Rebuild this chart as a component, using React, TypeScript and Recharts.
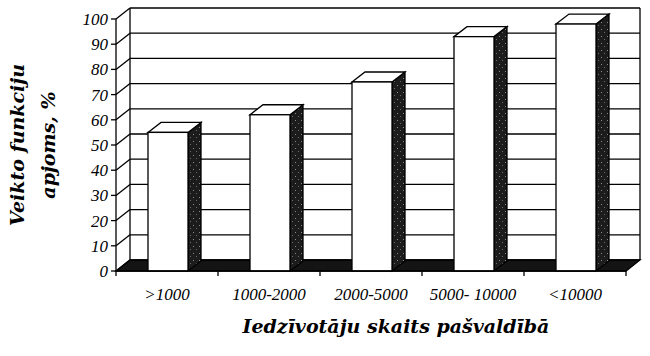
import { BarChart, Bar, XAxis, YAxis, CartesianGrid } from 'recharts'

const categories = ['>1000', '1000-2000', '2000-5000', '5000- 10000', '<10000']
const values = [55, 62, 75, 93, 98]
const yTicks = [0, 10, 20, 30, 40, 50, 60, 70, 80, 90, 100]

const W = 650
const H = 356
const X_AXIS_H = 30
const MARGIN = { top: 19, right: 24, bottom: 85 - X_AXIS_H, left: 60 }
const Y_AXIS_W = 56
const PLOT_L = MARGIN.left + Y_AXIS_W
const PLOT_R = W - MARGIN.right
const PLOT_T = MARGIN.top
const PLOT_B = H - 85
const BAND = (PLOT_R - PLOT_L) / categories.length
// depth of the fake 3d box
const DX = 14
const DY = 11
const BAR_DX = 13
const BAR_DY = 10
const FONT = '"Liberation Serif", "Times New Roman", serif'
const TITLE_FONT = '"DejaVu Serif", "Liberation Serif", serif'
const LW = 1.3

const data = categories.map((cat, i) => ({ cat, value: values[i] }))

function Bar3D(props: any) {
  const { x, y, width, height } = props
  if (height == null || width == null) return null
  const x0 = x + 1
  const r = x0 + width
  const b = y + height
  return (
    <g>
      <polygon
        points={`${r},${y} ${r + BAR_DX},${y - BAR_DY} ${r + BAR_DX},${b - BAR_DY} ${r},${b}`}
        fill="url(#stipple)"
        stroke="#000"
        strokeWidth={LW}
      />
      <polygon
        points={`${x0},${y} ${x0 + BAR_DX},${y - BAR_DY} ${r + BAR_DX},${y - BAR_DY} ${r},${y}`}
        fill="#fff"
        stroke="#000"
        strokeWidth={LW}
      />
      <rect x={x0} y={y} width={width} height={height} fill="#fff" stroke="#000" strokeWidth={LW} />
    </g>
  )
}

function GridLine(props: any) {
  const { x1, y1, x2 } = props
  return (
    <g key={props.key}>
      <line x1={x1} y1={y1} x2={x1 + DX} y2={y1 - DY} stroke="#000" strokeWidth={LW} />
      <line x1={x1 + DX} y1={y1 - DY} x2={x2 + DX} y2={y1 - DY} stroke="#000" strokeWidth={LW} />
    </g>
  )
}

function XTick(props: any) {
  const { x, y, payload, index } = props
  const left = x - BAND / 2
  return (
    <g>
      <line x1={left} y1={y} x2={left} y2={y + 5} stroke="#000" strokeWidth={LW} />
      {index === categories.length - 1 && (
        <line x1={x + BAND / 2} y1={y} x2={x + BAND / 2} y2={y + 5} stroke="#000" strokeWidth={LW} />
      )}
      <text x={x} y={y + 29} textAnchor="middle" fontFamily={FONT} fontStyle="italic" fontSize={17} fill="#000">
        {payload.value}
      </text>
    </g>
  )
}

function YTick(props: any) {
  const { x, y, payload } = props
  return (
    <text x={x} y={y + 6} textAnchor="end" fontFamily={FONT} fontStyle="italic" fontSize={17} fill="#000">
      {payload.value}
    </text>
  )
}

function Walls() {
  // back wall edges + dark floor, sits behind the recharts svg
  const bl = PLOT_L + DX
  const br = PLOT_R + DX
  const bt = PLOT_T - DY
  const bb = PLOT_B - DY
  return (
    <svg width={W} height={H} style={{ position: 'absolute', left: 0, top: 0 }}>
      <defs>
        <pattern id="stipple" width="6" height="7" patternUnits="userSpaceOnUse">
          <rect width="6" height="7" fill="#1c1c1c" />
          <rect x="1" y="1" width="1" height="1" fill="#8a8a8a" />
          <rect x="4" y="4" width="1" height="1" fill="#6a6a6a" />
        </pattern>
      </defs>
      <rect x={bl} y={bt} width={br - bl} height={bb - bt} fill="#fff" />
      <line x1={bl} y1={bt} x2={bl} y2={bb} stroke="#000" strokeWidth={LW} />
      <line x1={br} y1={bt} x2={br} y2={bb} stroke="#000" strokeWidth={LW} />
      <polygon
        points={`${PLOT_L},${PLOT_B} ${PLOT_R},${PLOT_B} ${br},${bb} ${bl},${bb}`}
        fill="#141414"
        stroke="#000"
        strokeWidth={LW}
      />
    </svg>
  )
}

export default function App() {
  return (
    <div style={{ position: 'absolute', left: 0, top: 0, width: W, height: H, background: '#fff' }}>
      <Walls />
      <div style={{ position: 'absolute', left: 0, top: 0 }}>
        <BarChart width={W} height={H} data={data} margin={MARGIN} barSize={40}>
          <CartesianGrid vertical={false} horizontal={GridLine} />
          <XAxis
            dataKey="cat"
            interval={0}
            height={X_AXIS_H}
            tickLine={false}
            tickSize={0}
            tickMargin={0}
            axisLine={{ stroke: '#000', strokeWidth: LW }}
            tick={XTick}
            label={{
              content: () => (
                <text x={396} y={333} textAnchor="middle" fontFamily={TITLE_FONT} fontStyle="italic" fontWeight="bold" fontSize={19} fill="#000">
                  Iedzīvotāju skaits pašvaldībā
                </text>
              ),
            }}
          />
          <YAxis
            type="number"
            domain={[0, 100]}
            ticks={yTicks}
            interval={0}
            width={Y_AXIS_W}
            tickSize={5}
            tickMargin={3}
            tickLine={{ stroke: '#000', strokeWidth: LW }}
            axisLine={{ stroke: '#000', strokeWidth: LW }}
            tick={YTick}
            label={{
              content: () => (
                <g fontFamily={TITLE_FONT} fontStyle="italic" fontWeight="bold" fontSize={19} fill="#000">
                  <text x={24} y={145} textAnchor="middle" transform="rotate(-90 24 145)">
                    Veikto funkciju
                  </text>
                  <text x={55} y={145} textAnchor="middle" transform="rotate(-90 55 145)">
                    apjoms, %
                  </text>
                </g>
              ),
            }}
          />
          <Bar dataKey="value" shape={Bar3D} isAnimationActive={false} />
        </BarChart>
      </div>
    </div>
  )
}
